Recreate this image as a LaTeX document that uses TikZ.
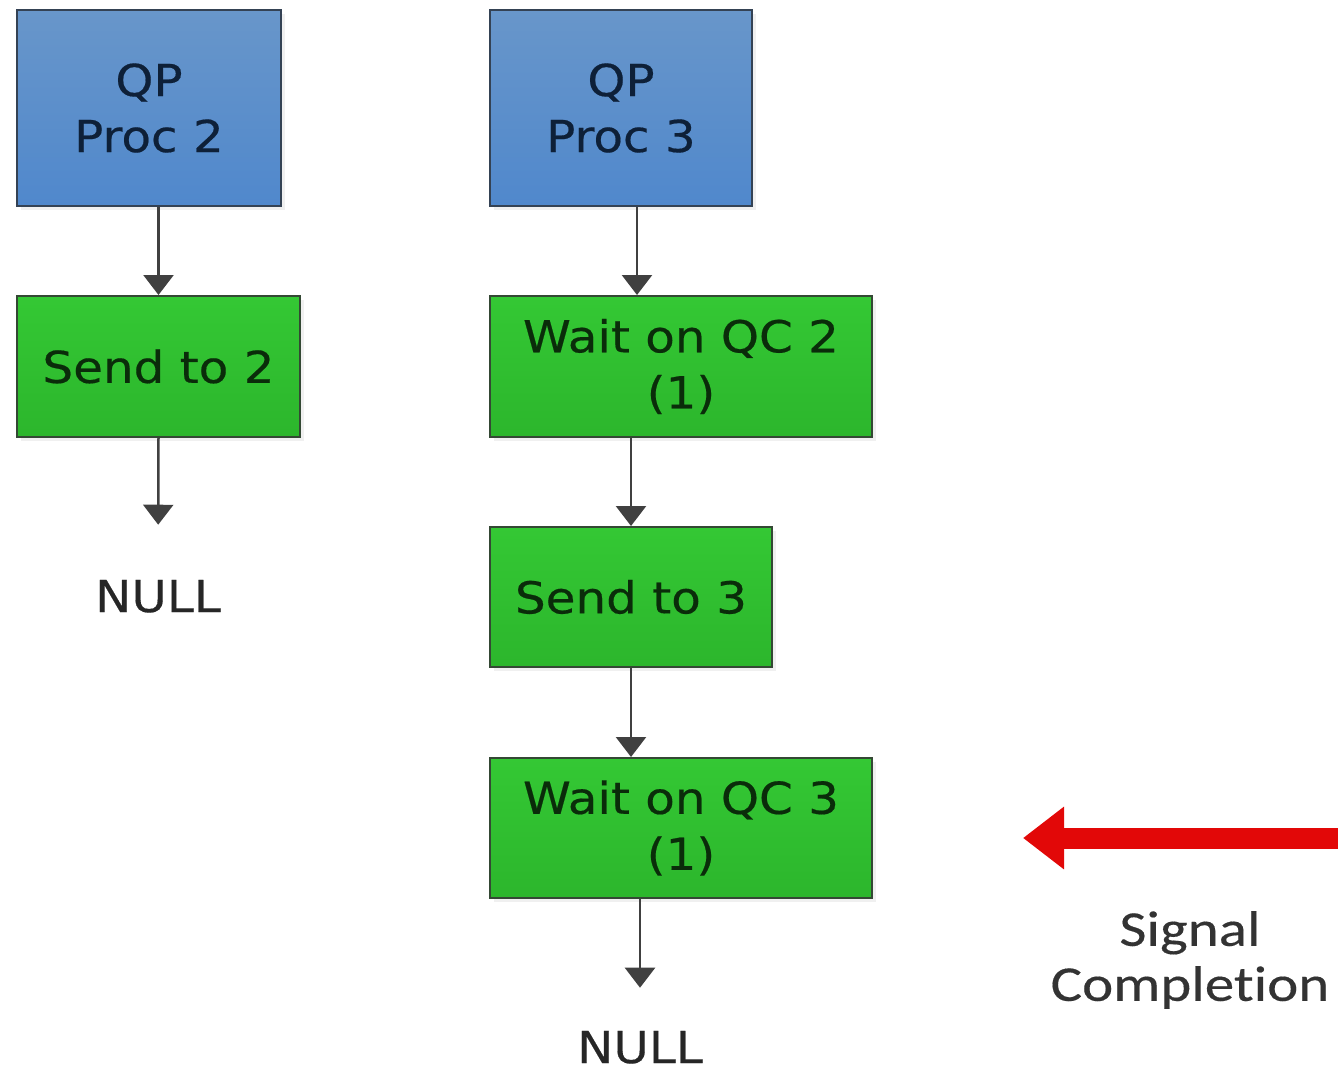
\documentclass[tikz,border=0pt]{standalone}
\usepackage{fontspec}
\usetikzlibrary{arrows.meta,shadows}
\newfontfamily\boxfont[FakeStretch=1.1,FakeBold=0.4]{DejaVu Sans}
\newfontfamily\notefont[FakeStretch=1.18,FakeBold=0.3,Ligatures=NoCommon]{Carlito}
\definecolor{proctop}{RGB}{104,150,202}
\definecolor{procbot}{RGB}{80,136,204}
\definecolor{procedge}{RGB}{52,66,84}
\definecolor{steptop}{RGB}{52,200,52}
\definecolor{stepbot}{RGB}{44,182,44}
\definecolor{stepedge}{RGB}{52,72,52}
\definecolor{proctext}{RGB}{14,32,56}
\definecolor{steptext}{RGB}{10,44,10}
\definecolor{flowgray}{RGB}{64,64,64}
\definecolor{signalred}{RGB}{226,8,8}
\begin{document}
\begin{tikzpicture}[x=1pt,y=-1pt,
  boxbase/.style={draw, line width=2pt, align=center, inner sep=0pt,
    drop shadow={opacity=0.12, shadow xshift=4pt, shadow yshift=-4pt},
    font=\boxfont\fontsize{44}{56}\selectfont},
  procbox/.style={boxbase, draw=procedge, top color=proctop, bottom color=procbot, text=proctext},
  stepbox/.style={boxbase, draw=stepedge, top color=steptop, bottom color=stepbot, text=steptext},
  endlabel/.style={font=\boxfont\fontsize{44}{56}\selectfont, text=black!85, inner sep=3pt, anchor=base},
  flow/.style={draw=flowgray, line width=2.5pt, -{Triangle[length=20pt,width=30pt]}},
  signal/.style={draw=signalred, line width=21pt, -{Triangle[length=41pt,width=60pt]}, fill=signalred}]
\useasboundingbox (0,0) rectangle (1338,1070);

% left column
\node[procbox, minimum width=264, minimum height=196] (proc2) at (149,108) {QP\\Proc 2};
\node[stepbox, minimum width=283, minimum height=141] (send2) at (158.5,366.5) {Send to 2};
\node[endlabel] (null2) at (158,612) {NULL};

% right column
\node[procbox, minimum width=262, minimum height=196] (proc3) at (621,108) {QP\\Proc 3};
\node[stepbox, minimum width=382, minimum height=141] (wait2) at (681,366.5) {Wait on QC 2\\(1)};
\node[stepbox, minimum width=282, minimum height=140] (send3) at (631,597) {Send to 3};
\node[stepbox, minimum width=382, minimum height=140] (wait3) at (681,828) {Wait on QC 3\\(1)};
\node[endlabel] (null3) at (640,1063) {NULL};

% signal
\coordinate (sigsrc) at (1350,838);
\node[font=\notefont\fontsize{50}{55}\selectfont, text=black!80, align=center] (sigtext) at (1190,960) {Signal\\Completion};

% connectors
\draw[flow] (proc2.south -| send2.north) -- (send2.north);
\draw[flow] (send2.south) -- (null2.north) [shorten >=52pt];
\draw[flow] ([xshift=16pt]proc3.south) -- ([xshift=16pt]proc3.south |- wait2.north);
\draw[flow] (wait2.south -| send3.north) -- (send3.north);
\draw[flow] (send3.south) -- (send3.south |- wait3.north);
\draw[flow] (wait3.south -| null3.north) -- (null3.north) [shorten >=40pt];
\draw[signal, shorten >=150pt] (sigsrc) -- (sigsrc -| wait3.east);
\end{tikzpicture}
\end{document}
